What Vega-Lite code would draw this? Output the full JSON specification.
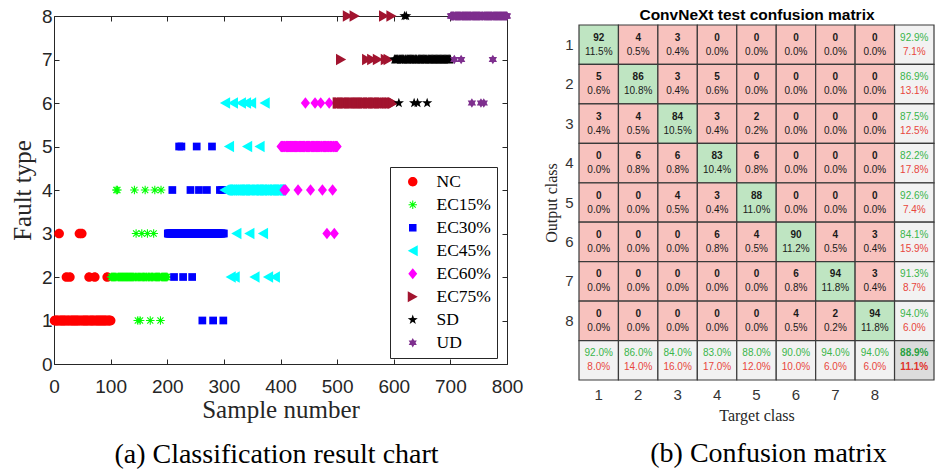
{
  "$schema": "https://vega.github.io/schema/vega-lite/v6.json",
  "background": "white",
  "padding": {"left": 10, "top": 7, "right": 0, "bottom": 0},
  "columns": 2,
  "align": "none",
  "spacing": 20,
  "config": {"view": {"stroke": null}, "font": "Liberation Sans"},
  "datasets": {
    "samples": [
      {"s":1,"t":1,"c":"NC"},{"s":2,"t":1,"c":"NC"},{"s":3,"t":1,"c":"NC"},{"s":4,"t":1,"c":"NC"},{"s":5,"t":1,"c":"NC"},{"s":6,"t":1,"c":"NC"},{"s":7,"t":1,"c":"NC"},{"s":8,"t":1,"c":"NC"},{"s":9,"t":3,"c":"NC"},{"s":10,"t":1,"c":"NC"},
      {"s":11,"t":1,"c":"NC"},{"s":12,"t":1,"c":"NC"},{"s":13,"t":1,"c":"NC"},{"s":14,"t":1,"c":"NC"},{"s":15,"t":1,"c":"NC"},{"s":16,"t":1,"c":"NC"},{"s":17,"t":1,"c":"NC"},{"s":18,"t":1,"c":"NC"},{"s":19,"t":1,"c":"NC"},{"s":20,"t":1,"c":"NC"},
      {"s":21,"t":1,"c":"NC"},{"s":22,"t":2,"c":"NC"},{"s":23,"t":1,"c":"NC"},{"s":24,"t":1,"c":"NC"},{"s":25,"t":1,"c":"NC"},{"s":26,"t":1,"c":"NC"},{"s":27,"t":1,"c":"NC"},{"s":28,"t":2,"c":"NC"},{"s":29,"t":1,"c":"NC"},{"s":30,"t":1,"c":"NC"},
      {"s":31,"t":1,"c":"NC"},{"s":32,"t":1,"c":"NC"},{"s":33,"t":1,"c":"NC"},{"s":34,"t":1,"c":"NC"},{"s":35,"t":1,"c":"NC"},{"s":36,"t":1,"c":"NC"},{"s":37,"t":1,"c":"NC"},{"s":38,"t":1,"c":"NC"},{"s":39,"t":1,"c":"NC"},{"s":40,"t":1,"c":"NC"},
      {"s":41,"t":1,"c":"NC"},{"s":42,"t":1,"c":"NC"},{"s":43,"t":1,"c":"NC"},{"s":44,"t":1,"c":"NC"},{"s":45,"t":3,"c":"NC"},{"s":46,"t":1,"c":"NC"},{"s":47,"t":1,"c":"NC"},{"s":48,"t":1,"c":"NC"},{"s":49,"t":3,"c":"NC"},{"s":50,"t":1,"c":"NC"},
      {"s":51,"t":1,"c":"NC"},{"s":52,"t":1,"c":"NC"},{"s":53,"t":1,"c":"NC"},{"s":54,"t":1,"c":"NC"},{"s":55,"t":1,"c":"NC"},{"s":56,"t":1,"c":"NC"},{"s":57,"t":1,"c":"NC"},{"s":58,"t":1,"c":"NC"},{"s":59,"t":1,"c":"NC"},{"s":60,"t":1,"c":"NC"},
      {"s":61,"t":1,"c":"NC"},{"s":62,"t":2,"c":"NC"},{"s":63,"t":1,"c":"NC"},{"s":64,"t":1,"c":"NC"},{"s":65,"t":1,"c":"NC"},{"s":66,"t":1,"c":"NC"},{"s":67,"t":1,"c":"NC"},{"s":68,"t":1,"c":"NC"},{"s":69,"t":1,"c":"NC"},{"s":70,"t":1,"c":"NC"},
      {"s":71,"t":1,"c":"NC"},{"s":72,"t":2,"c":"NC"},{"s":73,"t":1,"c":"NC"},{"s":74,"t":1,"c":"NC"},{"s":75,"t":1,"c":"NC"},{"s":76,"t":1,"c":"NC"},{"s":77,"t":1,"c":"NC"},{"s":78,"t":1,"c":"NC"},{"s":79,"t":1,"c":"NC"},{"s":80,"t":1,"c":"NC"},
      {"s":81,"t":1,"c":"NC"},{"s":82,"t":1,"c":"NC"},{"s":83,"t":1,"c":"NC"},{"s":84,"t":1,"c":"NC"},{"s":85,"t":1,"c":"NC"},{"s":86,"t":1,"c":"NC"},{"s":87,"t":1,"c":"NC"},{"s":88,"t":1,"c":"NC"},{"s":89,"t":1,"c":"NC"},{"s":90,"t":1,"c":"NC"},
      {"s":91,"t":1,"c":"NC"},{"s":92,"t":1,"c":"NC"},{"s":93,"t":1,"c":"NC"},{"s":94,"t":2,"c":"NC"},{"s":95,"t":1,"c":"NC"},{"s":96,"t":1,"c":"NC"},{"s":97,"t":1,"c":"NC"},{"s":98,"t":1,"c":"NC"},{"s":99,"t":1,"c":"NC"},{"s":100,"t":1,"c":"NC"},
      {"s":101,"t":2,"c":"EC15%"},{"s":102,"t":2,"c":"EC15%"},{"s":103,"t":2,"c":"EC15%"},{"s":104,"t":2,"c":"EC15%"},{"s":105,"t":2,"c":"EC15%"},{"s":106,"t":2,"c":"EC15%"},{"s":107,"t":2,"c":"EC15%"},{"s":108,"t":2,"c":"EC15%"},{"s":109,"t":2,"c":"EC15%"},{"s":110,"t":4,"c":"EC15%"},
      {"s":111,"t":2,"c":"EC15%"},{"s":112,"t":4,"c":"EC15%"},{"s":113,"t":2,"c":"EC15%"},{"s":114,"t":2,"c":"EC15%"},{"s":115,"t":2,"c":"EC15%"},{"s":116,"t":2,"c":"EC15%"},{"s":117,"t":2,"c":"EC15%"},{"s":118,"t":2,"c":"EC15%"},{"s":119,"t":2,"c":"EC15%"},{"s":120,"t":2,"c":"EC15%"},
      {"s":121,"t":2,"c":"EC15%"},{"s":122,"t":2,"c":"EC15%"},{"s":123,"t":2,"c":"EC15%"},{"s":124,"t":2,"c":"EC15%"},{"s":125,"t":2,"c":"EC15%"},{"s":126,"t":2,"c":"EC15%"},{"s":127,"t":2,"c":"EC15%"},{"s":128,"t":2,"c":"EC15%"},{"s":129,"t":2,"c":"EC15%"},{"s":130,"t":2,"c":"EC15%"},
      {"s":131,"t":2,"c":"EC15%"},{"s":132,"t":2,"c":"EC15%"},{"s":133,"t":2,"c":"EC15%"},{"s":134,"t":2,"c":"EC15%"},{"s":135,"t":2,"c":"EC15%"},{"s":136,"t":2,"c":"EC15%"},{"s":137,"t":2,"c":"EC15%"},{"s":138,"t":2,"c":"EC15%"},{"s":139,"t":2,"c":"EC15%"},{"s":140,"t":2,"c":"EC15%"},
      {"s":141,"t":2,"c":"EC15%"},{"s":142,"t":4,"c":"EC15%"},{"s":143,"t":2,"c":"EC15%"},{"s":144,"t":2,"c":"EC15%"},{"s":145,"t":3,"c":"EC15%"},{"s":146,"t":2,"c":"EC15%"},{"s":147,"t":2,"c":"EC15%"},{"s":148,"t":1,"c":"EC15%"},{"s":149,"t":2,"c":"EC15%"},{"s":150,"t":2,"c":"EC15%"},
      {"s":151,"t":2,"c":"EC15%"},{"s":152,"t":1,"c":"EC15%"},{"s":153,"t":2,"c":"EC15%"},{"s":154,"t":2,"c":"EC15%"},{"s":155,"t":3,"c":"EC15%"},{"s":156,"t":2,"c":"EC15%"},{"s":157,"t":2,"c":"EC15%"},{"s":158,"t":2,"c":"EC15%"},{"s":159,"t":2,"c":"EC15%"},{"s":160,"t":2,"c":"EC15%"},
      {"s":161,"t":4,"c":"EC15%"},{"s":162,"t":2,"c":"EC15%"},{"s":163,"t":2,"c":"EC15%"},{"s":164,"t":2,"c":"EC15%"},{"s":165,"t":3,"c":"EC15%"},{"s":166,"t":2,"c":"EC15%"},{"s":167,"t":2,"c":"EC15%"},{"s":168,"t":2,"c":"EC15%"},{"s":169,"t":2,"c":"EC15%"},{"s":170,"t":1,"c":"EC15%"},
      {"s":171,"t":2,"c":"EC15%"},{"s":172,"t":2,"c":"EC15%"},{"s":173,"t":2,"c":"EC15%"},{"s":174,"t":2,"c":"EC15%"},{"s":175,"t":2,"c":"EC15%"},{"s":176,"t":3,"c":"EC15%"},{"s":177,"t":2,"c":"EC15%"},{"s":178,"t":4,"c":"EC15%"},{"s":179,"t":2,"c":"EC15%"},{"s":180,"t":2,"c":"EC15%"},
      {"s":181,"t":2,"c":"EC15%"},{"s":182,"t":2,"c":"EC15%"},{"s":183,"t":2,"c":"EC15%"},{"s":184,"t":2,"c":"EC15%"},{"s":185,"t":2,"c":"EC15%"},{"s":186,"t":2,"c":"EC15%"},{"s":187,"t":2,"c":"EC15%"},{"s":188,"t":1,"c":"EC15%"},{"s":189,"t":4,"c":"EC15%"},{"s":190,"t":2,"c":"EC15%"},
      {"s":191,"t":2,"c":"EC15%"},{"s":192,"t":2,"c":"EC15%"},{"s":193,"t":2,"c":"EC15%"},{"s":194,"t":2,"c":"EC15%"},{"s":195,"t":2,"c":"EC15%"},{"s":196,"t":2,"c":"EC15%"},{"s":197,"t":2,"c":"EC15%"},{"s":198,"t":2,"c":"EC15%"},{"s":199,"t":2,"c":"EC15%"},{"s":200,"t":2,"c":"EC15%"},
      {"s":201,"t":3,"c":"EC30%"},{"s":202,"t":3,"c":"EC30%"},{"s":203,"t":3,"c":"EC30%"},{"s":204,"t":3,"c":"EC30%"},{"s":205,"t":3,"c":"EC30%"},{"s":206,"t":3,"c":"EC30%"},{"s":207,"t":3,"c":"EC30%"},{"s":208,"t":3,"c":"EC30%"},{"s":209,"t":4,"c":"EC30%"},{"s":210,"t":3,"c":"EC30%"},
      {"s":211,"t":3,"c":"EC30%"},{"s":212,"t":2,"c":"EC30%"},{"s":213,"t":3,"c":"EC30%"},{"s":214,"t":3,"c":"EC30%"},{"s":215,"t":3,"c":"EC30%"},{"s":216,"t":3,"c":"EC30%"},{"s":217,"t":3,"c":"EC30%"},{"s":218,"t":3,"c":"EC30%"},{"s":219,"t":3,"c":"EC30%"},{"s":220,"t":3,"c":"EC30%"},
      {"s":221,"t":5,"c":"EC30%"},{"s":222,"t":3,"c":"EC30%"},{"s":223,"t":3,"c":"EC30%"},{"s":224,"t":3,"c":"EC30%"},{"s":225,"t":5,"c":"EC30%"},{"s":226,"t":3,"c":"EC30%"},{"s":227,"t":3,"c":"EC30%"},{"s":228,"t":2,"c":"EC30%"},{"s":229,"t":3,"c":"EC30%"},{"s":230,"t":3,"c":"EC30%"},
      {"s":231,"t":3,"c":"EC30%"},{"s":232,"t":3,"c":"EC30%"},{"s":233,"t":3,"c":"EC30%"},{"s":234,"t":3,"c":"EC30%"},{"s":235,"t":3,"c":"EC30%"},{"s":236,"t":3,"c":"EC30%"},{"s":237,"t":3,"c":"EC30%"},{"s":238,"t":3,"c":"EC30%"},{"s":239,"t":3,"c":"EC30%"},{"s":240,"t":3,"c":"EC30%"},
      {"s":241,"t":4,"c":"EC30%"},{"s":242,"t":3,"c":"EC30%"},{"s":243,"t":3,"c":"EC30%"},{"s":244,"t":2,"c":"EC30%"},{"s":245,"t":3,"c":"EC30%"},{"s":246,"t":3,"c":"EC30%"},{"s":247,"t":3,"c":"EC30%"},{"s":248,"t":3,"c":"EC30%"},{"s":249,"t":3,"c":"EC30%"},{"s":250,"t":3,"c":"EC30%"},
      {"s":251,"t":3,"c":"EC30%"},{"s":252,"t":5,"c":"EC30%"},{"s":253,"t":3,"c":"EC30%"},{"s":254,"t":3,"c":"EC30%"},{"s":255,"t":3,"c":"EC30%"},{"s":256,"t":4,"c":"EC30%"},{"s":257,"t":3,"c":"EC30%"},{"s":258,"t":3,"c":"EC30%"},{"s":259,"t":3,"c":"EC30%"},{"s":260,"t":3,"c":"EC30%"},
      {"s":261,"t":3,"c":"EC30%"},{"s":262,"t":1,"c":"EC30%"},{"s":263,"t":3,"c":"EC30%"},{"s":264,"t":3,"c":"EC30%"},{"s":265,"t":3,"c":"EC30%"},{"s":266,"t":3,"c":"EC30%"},{"s":267,"t":3,"c":"EC30%"},{"s":268,"t":3,"c":"EC30%"},{"s":269,"t":3,"c":"EC30%"},{"s":270,"t":4,"c":"EC30%"},
      {"s":271,"t":3,"c":"EC30%"},{"s":272,"t":3,"c":"EC30%"},{"s":273,"t":3,"c":"EC30%"},{"s":274,"t":3,"c":"EC30%"},{"s":275,"t":3,"c":"EC30%"},{"s":276,"t":3,"c":"EC30%"},{"s":277,"t":3,"c":"EC30%"},{"s":278,"t":3,"c":"EC30%"},{"s":279,"t":5,"c":"EC30%"},{"s":280,"t":3,"c":"EC30%"},
      {"s":281,"t":1,"c":"EC30%"},{"s":282,"t":3,"c":"EC30%"},{"s":283,"t":3,"c":"EC30%"},{"s":284,"t":3,"c":"EC30%"},{"s":285,"t":3,"c":"EC30%"},{"s":286,"t":3,"c":"EC30%"},{"s":287,"t":3,"c":"EC30%"},{"s":288,"t":3,"c":"EC30%"},{"s":289,"t":3,"c":"EC30%"},{"s":290,"t":3,"c":"EC30%"},
      {"s":291,"t":3,"c":"EC30%"},{"s":292,"t":3,"c":"EC30%"},{"s":293,"t":4,"c":"EC30%"},{"s":294,"t":3,"c":"EC30%"},{"s":295,"t":3,"c":"EC30%"},{"s":296,"t":3,"c":"EC30%"},{"s":297,"t":4,"c":"EC30%"},{"s":298,"t":3,"c":"EC30%"},{"s":299,"t":1,"c":"EC30%"},{"s":300,"t":3,"c":"EC30%"},
      {"s":301,"t":4,"c":"EC45%"},{"s":302,"t":6,"c":"EC45%"},{"s":303,"t":4,"c":"EC45%"},{"s":304,"t":4,"c":"EC45%"},{"s":305,"t":4,"c":"EC45%"},{"s":306,"t":4,"c":"EC45%"},{"s":307,"t":4,"c":"EC45%"},{"s":308,"t":4,"c":"EC45%"},{"s":309,"t":5,"c":"EC45%"},{"s":310,"t":4,"c":"EC45%"},
      {"s":311,"t":4,"c":"EC45%"},{"s":312,"t":2,"c":"EC45%"},{"s":313,"t":4,"c":"EC45%"},{"s":314,"t":4,"c":"EC45%"},{"s":315,"t":4,"c":"EC45%"},{"s":316,"t":6,"c":"EC45%"},{"s":317,"t":4,"c":"EC45%"},{"s":318,"t":4,"c":"EC45%"},{"s":319,"t":2,"c":"EC45%"},{"s":320,"t":4,"c":"EC45%"},
      {"s":321,"t":4,"c":"EC45%"},{"s":322,"t":3,"c":"EC45%"},{"s":323,"t":4,"c":"EC45%"},{"s":324,"t":4,"c":"EC45%"},{"s":325,"t":4,"c":"EC45%"},{"s":326,"t":4,"c":"EC45%"},{"s":327,"t":4,"c":"EC45%"},{"s":328,"t":4,"c":"EC45%"},{"s":329,"t":4,"c":"EC45%"},{"s":330,"t":6,"c":"EC45%"},
      {"s":331,"t":4,"c":"EC45%"},{"s":332,"t":4,"c":"EC45%"},{"s":333,"t":4,"c":"EC45%"},{"s":334,"t":4,"c":"EC45%"},{"s":335,"t":4,"c":"EC45%"},{"s":336,"t":4,"c":"EC45%"},{"s":337,"t":4,"c":"EC45%"},{"s":338,"t":4,"c":"EC45%"},{"s":339,"t":6,"c":"EC45%"},{"s":340,"t":4,"c":"EC45%"},
      {"s":341,"t":5,"c":"EC45%"},{"s":342,"t":4,"c":"EC45%"},{"s":343,"t":4,"c":"EC45%"},{"s":344,"t":4,"c":"EC45%"},{"s":345,"t":3,"c":"EC45%"},{"s":346,"t":4,"c":"EC45%"},{"s":347,"t":4,"c":"EC45%"},{"s":348,"t":6,"c":"EC45%"},{"s":349,"t":4,"c":"EC45%"},{"s":350,"t":4,"c":"EC45%"},
      {"s":351,"t":4,"c":"EC45%"},{"s":352,"t":4,"c":"EC45%"},{"s":353,"t":4,"c":"EC45%"},{"s":354,"t":2,"c":"EC45%"},{"s":355,"t":4,"c":"EC45%"},{"s":356,"t":4,"c":"EC45%"},{"s":357,"t":4,"c":"EC45%"},{"s":358,"t":4,"c":"EC45%"},{"s":359,"t":4,"c":"EC45%"},{"s":360,"t":4,"c":"EC45%"},
      {"s":361,"t":4,"c":"EC45%"},{"s":362,"t":4,"c":"EC45%"},{"s":363,"t":5,"c":"EC45%"},{"s":364,"t":4,"c":"EC45%"},{"s":365,"t":4,"c":"EC45%"},{"s":366,"t":4,"c":"EC45%"},{"s":367,"t":4,"c":"EC45%"},{"s":368,"t":4,"c":"EC45%"},{"s":369,"t":3,"c":"EC45%"},{"s":370,"t":4,"c":"EC45%"},
      {"s":371,"t":4,"c":"EC45%"},{"s":372,"t":6,"c":"EC45%"},{"s":373,"t":4,"c":"EC45%"},{"s":374,"t":4,"c":"EC45%"},{"s":375,"t":4,"c":"EC45%"},{"s":376,"t":4,"c":"EC45%"},{"s":377,"t":4,"c":"EC45%"},{"s":378,"t":2,"c":"EC45%"},{"s":379,"t":4,"c":"EC45%"},{"s":380,"t":4,"c":"EC45%"},
      {"s":381,"t":4,"c":"EC45%"},{"s":382,"t":4,"c":"EC45%"},{"s":383,"t":4,"c":"EC45%"},{"s":384,"t":4,"c":"EC45%"},{"s":385,"t":4,"c":"EC45%"},{"s":386,"t":4,"c":"EC45%"},{"s":387,"t":4,"c":"EC45%"},{"s":388,"t":4,"c":"EC45%"},{"s":389,"t":4,"c":"EC45%"},{"s":390,"t":2,"c":"EC45%"},
      {"s":391,"t":4,"c":"EC45%"},{"s":392,"t":4,"c":"EC45%"},{"s":393,"t":4,"c":"EC45%"},{"s":394,"t":4,"c":"EC45%"},{"s":395,"t":4,"c":"EC45%"},{"s":396,"t":4,"c":"EC45%"},{"s":397,"t":4,"c":"EC45%"},{"s":398,"t":4,"c":"EC45%"},{"s":399,"t":4,"c":"EC45%"},{"s":400,"t":4,"c":"EC45%"},
      {"s":401,"t":5,"c":"EC60%"},{"s":402,"t":5,"c":"EC60%"},{"s":403,"t":5,"c":"EC60%"},{"s":404,"t":5,"c":"EC60%"},{"s":405,"t":5,"c":"EC60%"},{"s":406,"t":4,"c":"EC60%"},{"s":407,"t":5,"c":"EC60%"},{"s":408,"t":5,"c":"EC60%"},{"s":409,"t":4,"c":"EC60%"},{"s":410,"t":5,"c":"EC60%"},
      {"s":411,"t":5,"c":"EC60%"},{"s":412,"t":5,"c":"EC60%"},{"s":413,"t":5,"c":"EC60%"},{"s":414,"t":5,"c":"EC60%"},{"s":415,"t":5,"c":"EC60%"},{"s":416,"t":5,"c":"EC60%"},{"s":417,"t":5,"c":"EC60%"},{"s":418,"t":5,"c":"EC60%"},{"s":419,"t":5,"c":"EC60%"},{"s":420,"t":5,"c":"EC60%"},
      {"s":421,"t":5,"c":"EC60%"},{"s":422,"t":5,"c":"EC60%"},{"s":423,"t":5,"c":"EC60%"},{"s":424,"t":5,"c":"EC60%"},{"s":425,"t":5,"c":"EC60%"},{"s":426,"t":5,"c":"EC60%"},{"s":427,"t":5,"c":"EC60%"},{"s":428,"t":5,"c":"EC60%"},{"s":429,"t":5,"c":"EC60%"},{"s":430,"t":5,"c":"EC60%"},
      {"s":431,"t":4,"c":"EC60%"},{"s":432,"t":5,"c":"EC60%"},{"s":433,"t":5,"c":"EC60%"},{"s":434,"t":5,"c":"EC60%"},{"s":435,"t":5,"c":"EC60%"},{"s":436,"t":5,"c":"EC60%"},{"s":437,"t":5,"c":"EC60%"},{"s":438,"t":5,"c":"EC60%"},{"s":439,"t":5,"c":"EC60%"},{"s":440,"t":5,"c":"EC60%"},
      {"s":441,"t":5,"c":"EC60%"},{"s":442,"t":5,"c":"EC60%"},{"s":443,"t":5,"c":"EC60%"},{"s":444,"t":6,"c":"EC60%"},{"s":445,"t":5,"c":"EC60%"},{"s":446,"t":5,"c":"EC60%"},{"s":447,"t":5,"c":"EC60%"},{"s":448,"t":5,"c":"EC60%"},{"s":449,"t":5,"c":"EC60%"},{"s":450,"t":5,"c":"EC60%"},
      {"s":451,"t":5,"c":"EC60%"},{"s":452,"t":5,"c":"EC60%"},{"s":453,"t":4,"c":"EC60%"},{"s":454,"t":5,"c":"EC60%"},{"s":455,"t":5,"c":"EC60%"},{"s":456,"t":5,"c":"EC60%"},{"s":457,"t":5,"c":"EC60%"},{"s":458,"t":5,"c":"EC60%"},{"s":459,"t":5,"c":"EC60%"},{"s":460,"t":5,"c":"EC60%"},
      {"s":461,"t":6,"c":"EC60%"},{"s":462,"t":5,"c":"EC60%"},{"s":463,"t":5,"c":"EC60%"},{"s":464,"t":5,"c":"EC60%"},{"s":465,"t":5,"c":"EC60%"},{"s":466,"t":5,"c":"EC60%"},{"s":467,"t":5,"c":"EC60%"},{"s":468,"t":5,"c":"EC60%"},{"s":469,"t":5,"c":"EC60%"},{"s":470,"t":5,"c":"EC60%"},
      {"s":471,"t":6,"c":"EC60%"},{"s":472,"t":5,"c":"EC60%"},{"s":473,"t":5,"c":"EC60%"},{"s":474,"t":4,"c":"EC60%"},{"s":475,"t":5,"c":"EC60%"},{"s":476,"t":5,"c":"EC60%"},{"s":477,"t":5,"c":"EC60%"},{"s":478,"t":5,"c":"EC60%"},{"s":479,"t":5,"c":"EC60%"},{"s":480,"t":5,"c":"EC60%"},
      {"s":481,"t":5,"c":"EC60%"},{"s":482,"t":3,"c":"EC60%"},{"s":483,"t":5,"c":"EC60%"},{"s":484,"t":5,"c":"EC60%"},{"s":485,"t":5,"c":"EC60%"},{"s":486,"t":6,"c":"EC60%"},{"s":487,"t":5,"c":"EC60%"},{"s":488,"t":5,"c":"EC60%"},{"s":489,"t":5,"c":"EC60%"},{"s":490,"t":5,"c":"EC60%"},
      {"s":491,"t":5,"c":"EC60%"},{"s":492,"t":4,"c":"EC60%"},{"s":493,"t":5,"c":"EC60%"},{"s":494,"t":5,"c":"EC60%"},{"s":495,"t":3,"c":"EC60%"},{"s":496,"t":5,"c":"EC60%"},{"s":497,"t":5,"c":"EC60%"},{"s":498,"t":5,"c":"EC60%"},{"s":499,"t":5,"c":"EC60%"},{"s":500,"t":5,"c":"EC60%"},
      {"s":501,"t":6,"c":"EC75%"},{"s":502,"t":6,"c":"EC75%"},{"s":503,"t":6,"c":"EC75%"},{"s":504,"t":6,"c":"EC75%"},{"s":505,"t":6,"c":"EC75%"},{"s":506,"t":6,"c":"EC75%"},{"s":507,"t":7,"c":"EC75%"},{"s":508,"t":6,"c":"EC75%"},{"s":509,"t":6,"c":"EC75%"},{"s":510,"t":6,"c":"EC75%"},
      {"s":511,"t":6,"c":"EC75%"},{"s":512,"t":6,"c":"EC75%"},{"s":513,"t":6,"c":"EC75%"},{"s":514,"t":6,"c":"EC75%"},{"s":515,"t":6,"c":"EC75%"},{"s":516,"t":6,"c":"EC75%"},{"s":517,"t":6,"c":"EC75%"},{"s":518,"t":6,"c":"EC75%"},{"s":519,"t":8,"c":"EC75%"},{"s":520,"t":6,"c":"EC75%"},
      {"s":521,"t":6,"c":"EC75%"},{"s":522,"t":6,"c":"EC75%"},{"s":523,"t":6,"c":"EC75%"},{"s":524,"t":6,"c":"EC75%"},{"s":525,"t":6,"c":"EC75%"},{"s":526,"t":6,"c":"EC75%"},{"s":527,"t":6,"c":"EC75%"},{"s":528,"t":6,"c":"EC75%"},{"s":529,"t":6,"c":"EC75%"},{"s":530,"t":6,"c":"EC75%"},
      {"s":531,"t":8,"c":"EC75%"},{"s":532,"t":6,"c":"EC75%"},{"s":533,"t":6,"c":"EC75%"},{"s":534,"t":6,"c":"EC75%"},{"s":535,"t":6,"c":"EC75%"},{"s":536,"t":6,"c":"EC75%"},{"s":537,"t":6,"c":"EC75%"},{"s":538,"t":6,"c":"EC75%"},{"s":539,"t":6,"c":"EC75%"},{"s":540,"t":6,"c":"EC75%"},
      {"s":541,"t":6,"c":"EC75%"},{"s":542,"t":6,"c":"EC75%"},{"s":543,"t":6,"c":"EC75%"},{"s":544,"t":6,"c":"EC75%"},{"s":545,"t":6,"c":"EC75%"},{"s":546,"t":6,"c":"EC75%"},{"s":547,"t":6,"c":"EC75%"},{"s":548,"t":6,"c":"EC75%"},{"s":549,"t":6,"c":"EC75%"},{"s":550,"t":6,"c":"EC75%"},
      {"s":551,"t":6,"c":"EC75%"},{"s":552,"t":6,"c":"EC75%"},{"s":553,"t":7,"c":"EC75%"},{"s":554,"t":6,"c":"EC75%"},{"s":555,"t":6,"c":"EC75%"},{"s":556,"t":6,"c":"EC75%"},{"s":557,"t":6,"c":"EC75%"},{"s":558,"t":6,"c":"EC75%"},{"s":559,"t":6,"c":"EC75%"},{"s":560,"t":6,"c":"EC75%"},
      {"s":561,"t":6,"c":"EC75%"},{"s":562,"t":7,"c":"EC75%"},{"s":563,"t":6,"c":"EC75%"},{"s":564,"t":6,"c":"EC75%"},{"s":565,"t":6,"c":"EC75%"},{"s":566,"t":6,"c":"EC75%"},{"s":567,"t":6,"c":"EC75%"},{"s":568,"t":6,"c":"EC75%"},{"s":569,"t":6,"c":"EC75%"},{"s":570,"t":6,"c":"EC75%"},
      {"s":571,"t":6,"c":"EC75%"},{"s":572,"t":7,"c":"EC75%"},{"s":573,"t":6,"c":"EC75%"},{"s":574,"t":6,"c":"EC75%"},{"s":575,"t":6,"c":"EC75%"},{"s":576,"t":6,"c":"EC75%"},{"s":577,"t":6,"c":"EC75%"},{"s":578,"t":6,"c":"EC75%"},{"s":579,"t":6,"c":"EC75%"},{"s":580,"t":6,"c":"EC75%"},
      {"s":581,"t":6,"c":"EC75%"},{"s":582,"t":6,"c":"EC75%"},{"s":583,"t":8,"c":"EC75%"},{"s":584,"t":6,"c":"EC75%"},{"s":585,"t":6,"c":"EC75%"},{"s":586,"t":7,"c":"EC75%"},{"s":587,"t":6,"c":"EC75%"},{"s":588,"t":6,"c":"EC75%"},{"s":589,"t":6,"c":"EC75%"},{"s":590,"t":6,"c":"EC75%"},
      {"s":591,"t":7,"c":"EC75%"},{"s":592,"t":6,"c":"EC75%"},{"s":593,"t":6,"c":"EC75%"},{"s":594,"t":6,"c":"EC75%"},{"s":595,"t":6,"c":"EC75%"},{"s":596,"t":8,"c":"EC75%"},{"s":597,"t":6,"c":"EC75%"},{"s":598,"t":6,"c":"EC75%"},{"s":599,"t":6,"c":"EC75%"},{"s":600,"t":6,"c":"EC75%"},
      {"s":601,"t":7,"c":"SD"},{"s":602,"t":7,"c":"SD"},{"s":603,"t":7,"c":"SD"},{"s":604,"t":7,"c":"SD"},{"s":605,"t":7,"c":"SD"},{"s":606,"t":7,"c":"SD"},{"s":607,"t":7,"c":"SD"},{"s":608,"t":7,"c":"SD"},{"s":609,"t":6,"c":"SD"},{"s":610,"t":7,"c":"SD"},
      {"s":611,"t":7,"c":"SD"},{"s":612,"t":7,"c":"SD"},{"s":613,"t":7,"c":"SD"},{"s":614,"t":7,"c":"SD"},{"s":615,"t":7,"c":"SD"},{"s":616,"t":7,"c":"SD"},{"s":617,"t":7,"c":"SD"},{"s":618,"t":7,"c":"SD"},{"s":619,"t":8,"c":"SD"},{"s":620,"t":7,"c":"SD"},
      {"s":621,"t":7,"c":"SD"},{"s":622,"t":8,"c":"SD"},{"s":623,"t":7,"c":"SD"},{"s":624,"t":7,"c":"SD"},{"s":625,"t":7,"c":"SD"},{"s":626,"t":7,"c":"SD"},{"s":627,"t":7,"c":"SD"},{"s":628,"t":7,"c":"SD"},{"s":629,"t":7,"c":"SD"},{"s":630,"t":7,"c":"SD"},
      {"s":631,"t":7,"c":"SD"},{"s":632,"t":7,"c":"SD"},{"s":633,"t":7,"c":"SD"},{"s":634,"t":7,"c":"SD"},{"s":635,"t":7,"c":"SD"},{"s":636,"t":6,"c":"SD"},{"s":637,"t":7,"c":"SD"},{"s":638,"t":7,"c":"SD"},{"s":639,"t":7,"c":"SD"},{"s":640,"t":7,"c":"SD"},
      {"s":641,"t":7,"c":"SD"},{"s":642,"t":6,"c":"SD"},{"s":643,"t":7,"c":"SD"},{"s":644,"t":7,"c":"SD"},{"s":645,"t":7,"c":"SD"},{"s":646,"t":7,"c":"SD"},{"s":647,"t":7,"c":"SD"},{"s":648,"t":7,"c":"SD"},{"s":649,"t":7,"c":"SD"},{"s":650,"t":7,"c":"SD"},
      {"s":651,"t":7,"c":"SD"},{"s":652,"t":7,"c":"SD"},{"s":653,"t":7,"c":"SD"},{"s":654,"t":7,"c":"SD"},{"s":655,"t":7,"c":"SD"},{"s":656,"t":7,"c":"SD"},{"s":657,"t":7,"c":"SD"},{"s":658,"t":7,"c":"SD"},{"s":659,"t":6,"c":"SD"},{"s":660,"t":7,"c":"SD"},
      {"s":661,"t":7,"c":"SD"},{"s":662,"t":7,"c":"SD"},{"s":663,"t":7,"c":"SD"},{"s":664,"t":7,"c":"SD"},{"s":665,"t":7,"c":"SD"},{"s":666,"t":7,"c":"SD"},{"s":667,"t":7,"c":"SD"},{"s":668,"t":7,"c":"SD"},{"s":669,"t":7,"c":"SD"},{"s":670,"t":7,"c":"SD"},
      {"s":671,"t":7,"c":"SD"},{"s":672,"t":7,"c":"SD"},{"s":673,"t":7,"c":"SD"},{"s":674,"t":7,"c":"SD"},{"s":675,"t":7,"c":"SD"},{"s":676,"t":7,"c":"SD"},{"s":677,"t":7,"c":"SD"},{"s":678,"t":7,"c":"SD"},{"s":679,"t":7,"c":"SD"},{"s":680,"t":7,"c":"SD"},
      {"s":681,"t":7,"c":"SD"},{"s":682,"t":7,"c":"SD"},{"s":683,"t":7,"c":"SD"},{"s":684,"t":7,"c":"SD"},{"s":685,"t":7,"c":"SD"},{"s":686,"t":7,"c":"SD"},{"s":687,"t":7,"c":"SD"},{"s":688,"t":7,"c":"SD"},{"s":689,"t":7,"c":"SD"},{"s":690,"t":7,"c":"SD"},
      {"s":691,"t":7,"c":"SD"},{"s":692,"t":7,"c":"SD"},{"s":693,"t":7,"c":"SD"},{"s":694,"t":7,"c":"SD"},{"s":695,"t":7,"c":"SD"},{"s":696,"t":7,"c":"SD"},{"s":697,"t":7,"c":"SD"},{"s":698,"t":7,"c":"SD"},{"s":699,"t":7,"c":"SD"},{"s":700,"t":7,"c":"SD"},
      {"s":701,"t":8,"c":"UD"},{"s":702,"t":8,"c":"UD"},{"s":703,"t":8,"c":"UD"},{"s":704,"t":8,"c":"UD"},{"s":705,"t":8,"c":"UD"},{"s":706,"t":8,"c":"UD"},{"s":707,"t":7,"c":"UD"},{"s":708,"t":8,"c":"UD"},{"s":709,"t":8,"c":"UD"},{"s":710,"t":8,"c":"UD"},
      {"s":711,"t":8,"c":"UD"},{"s":712,"t":8,"c":"UD"},{"s":713,"t":8,"c":"UD"},{"s":714,"t":8,"c":"UD"},{"s":715,"t":8,"c":"UD"},{"s":716,"t":8,"c":"UD"},{"s":717,"t":8,"c":"UD"},{"s":718,"t":8,"c":"UD"},{"s":719,"t":7,"c":"UD"},{"s":720,"t":8,"c":"UD"},
      {"s":721,"t":8,"c":"UD"},{"s":722,"t":8,"c":"UD"},{"s":723,"t":8,"c":"UD"},{"s":724,"t":8,"c":"UD"},{"s":725,"t":8,"c":"UD"},{"s":726,"t":8,"c":"UD"},{"s":727,"t":8,"c":"UD"},{"s":728,"t":8,"c":"UD"},{"s":729,"t":8,"c":"UD"},{"s":730,"t":8,"c":"UD"},
      {"s":731,"t":8,"c":"UD"},{"s":732,"t":8,"c":"UD"},{"s":733,"t":8,"c":"UD"},{"s":734,"t":8,"c":"UD"},{"s":735,"t":8,"c":"UD"},{"s":736,"t":8,"c":"UD"},{"s":737,"t":8,"c":"UD"},{"s":738,"t":6,"c":"UD"},{"s":739,"t":8,"c":"UD"},{"s":740,"t":8,"c":"UD"},
      {"s":741,"t":8,"c":"UD"},{"s":742,"t":8,"c":"UD"},{"s":743,"t":8,"c":"UD"},{"s":744,"t":8,"c":"UD"},{"s":745,"t":8,"c":"UD"},{"s":746,"t":8,"c":"UD"},{"s":747,"t":8,"c":"UD"},{"s":748,"t":8,"c":"UD"},{"s":749,"t":8,"c":"UD"},{"s":750,"t":8,"c":"UD"},
      {"s":751,"t":8,"c":"UD"},{"s":752,"t":8,"c":"UD"},{"s":753,"t":8,"c":"UD"},{"s":754,"t":6,"c":"UD"},{"s":755,"t":8,"c":"UD"},{"s":756,"t":8,"c":"UD"},{"s":757,"t":8,"c":"UD"},{"s":758,"t":8,"c":"UD"},{"s":759,"t":6,"c":"UD"},{"s":760,"t":8,"c":"UD"},
      {"s":761,"t":8,"c":"UD"},{"s":762,"t":8,"c":"UD"},{"s":763,"t":8,"c":"UD"},{"s":764,"t":8,"c":"UD"},{"s":765,"t":8,"c":"UD"},{"s":766,"t":8,"c":"UD"},{"s":767,"t":8,"c":"UD"},{"s":768,"t":8,"c":"UD"},{"s":769,"t":8,"c":"UD"},{"s":770,"t":8,"c":"UD"},
      {"s":771,"t":8,"c":"UD"},{"s":772,"t":8,"c":"UD"},{"s":773,"t":8,"c":"UD"},{"s":774,"t":8,"c":"UD"},{"s":775,"t":7,"c":"UD"},{"s":776,"t":8,"c":"UD"},{"s":777,"t":8,"c":"UD"},{"s":778,"t":8,"c":"UD"},{"s":779,"t":8,"c":"UD"},{"s":780,"t":8,"c":"UD"},
      {"s":781,"t":8,"c":"UD"},{"s":782,"t":8,"c":"UD"},{"s":783,"t":8,"c":"UD"},{"s":784,"t":8,"c":"UD"},{"s":785,"t":8,"c":"UD"},{"s":786,"t":8,"c":"UD"},{"s":787,"t":8,"c":"UD"},{"s":788,"t":8,"c":"UD"},{"s":789,"t":8,"c":"UD"},{"s":790,"t":8,"c":"UD"},
      {"s":791,"t":8,"c":"UD"},{"s":792,"t":8,"c":"UD"},{"s":793,"t":8,"c":"UD"},{"s":794,"t":8,"c":"UD"},{"s":795,"t":8,"c":"UD"},{"s":796,"t":8,"c":"UD"},{"s":797,"t":8,"c":"UD"},{"s":798,"t":8,"c":"UD"},{"s":799,"t":8,"c":"UD"},{"s":800,"t":8,"c":"UD"}
    ],
    "cells": [
      {"r":1,"c":1,"a":"92","b":"11.5%","k":"diag"},{"r":1,"c":2,"a":"4","b":"0.5%","k":"off"},{"r":1,"c":3,"a":"3","b":"0.4%","k":"off"},{"r":1,"c":4,"a":"0","b":"0.0%","k":"off"},{"r":1,"c":5,"a":"0","b":"0.0%","k":"off"},{"r":1,"c":6,"a":"0","b":"0.0%","k":"off"},{"r":1,"c":7,"a":"0","b":"0.0%","k":"off"},{"r":1,"c":8,"a":"0","b":"0.0%","k":"off"},{"r":1,"c":9,"a":"92.9%","b":"7.1%","k":"sum"},
      {"r":2,"c":1,"a":"5","b":"0.6%","k":"off"},{"r":2,"c":2,"a":"86","b":"10.8%","k":"diag"},{"r":2,"c":3,"a":"3","b":"0.4%","k":"off"},{"r":2,"c":4,"a":"5","b":"0.6%","k":"off"},{"r":2,"c":5,"a":"0","b":"0.0%","k":"off"},{"r":2,"c":6,"a":"0","b":"0.0%","k":"off"},{"r":2,"c":7,"a":"0","b":"0.0%","k":"off"},{"r":2,"c":8,"a":"0","b":"0.0%","k":"off"},{"r":2,"c":9,"a":"86.9%","b":"13.1%","k":"sum"},
      {"r":3,"c":1,"a":"3","b":"0.4%","k":"off"},{"r":3,"c":2,"a":"4","b":"0.5%","k":"off"},{"r":3,"c":3,"a":"84","b":"10.5%","k":"diag"},{"r":3,"c":4,"a":"3","b":"0.4%","k":"off"},{"r":3,"c":5,"a":"2","b":"0.2%","k":"off"},{"r":3,"c":6,"a":"0","b":"0.0%","k":"off"},{"r":3,"c":7,"a":"0","b":"0.0%","k":"off"},{"r":3,"c":8,"a":"0","b":"0.0%","k":"off"},{"r":3,"c":9,"a":"87.5%","b":"12.5%","k":"sum"},
      {"r":4,"c":1,"a":"0","b":"0.0%","k":"off"},{"r":4,"c":2,"a":"6","b":"0.8%","k":"off"},{"r":4,"c":3,"a":"6","b":"0.8%","k":"off"},{"r":4,"c":4,"a":"83","b":"10.4%","k":"diag"},{"r":4,"c":5,"a":"6","b":"0.8%","k":"off"},{"r":4,"c":6,"a":"0","b":"0.0%","k":"off"},{"r":4,"c":7,"a":"0","b":"0.0%","k":"off"},{"r":4,"c":8,"a":"0","b":"0.0%","k":"off"},{"r":4,"c":9,"a":"82.2%","b":"17.8%","k":"sum"},
      {"r":5,"c":1,"a":"0","b":"0.0%","k":"off"},{"r":5,"c":2,"a":"0","b":"0.0%","k":"off"},{"r":5,"c":3,"a":"4","b":"0.5%","k":"off"},{"r":5,"c":4,"a":"3","b":"0.4%","k":"off"},{"r":5,"c":5,"a":"88","b":"11.0%","k":"diag"},{"r":5,"c":6,"a":"0","b":"0.0%","k":"off"},{"r":5,"c":7,"a":"0","b":"0.0%","k":"off"},{"r":5,"c":8,"a":"0","b":"0.0%","k":"off"},{"r":5,"c":9,"a":"92.6%","b":"7.4%","k":"sum"},
      {"r":6,"c":1,"a":"0","b":"0.0%","k":"off"},{"r":6,"c":2,"a":"0","b":"0.0%","k":"off"},{"r":6,"c":3,"a":"0","b":"0.0%","k":"off"},{"r":6,"c":4,"a":"6","b":"0.8%","k":"off"},{"r":6,"c":5,"a":"4","b":"0.5%","k":"off"},{"r":6,"c":6,"a":"90","b":"11.2%","k":"diag"},{"r":6,"c":7,"a":"4","b":"0.5%","k":"off"},{"r":6,"c":8,"a":"3","b":"0.4%","k":"off"},{"r":6,"c":9,"a":"84.1%","b":"15.9%","k":"sum"},
      {"r":7,"c":1,"a":"0","b":"0.0%","k":"off"},{"r":7,"c":2,"a":"0","b":"0.0%","k":"off"},{"r":7,"c":3,"a":"0","b":"0.0%","k":"off"},{"r":7,"c":4,"a":"0","b":"0.0%","k":"off"},{"r":7,"c":5,"a":"0","b":"0.0%","k":"off"},{"r":7,"c":6,"a":"6","b":"0.8%","k":"off"},{"r":7,"c":7,"a":"94","b":"11.8%","k":"diag"},{"r":7,"c":8,"a":"3","b":"0.4%","k":"off"},{"r":7,"c":9,"a":"91.3%","b":"8.7%","k":"sum"},
      {"r":8,"c":1,"a":"0","b":"0.0%","k":"off"},{"r":8,"c":2,"a":"0","b":"0.0%","k":"off"},{"r":8,"c":3,"a":"0","b":"0.0%","k":"off"},{"r":8,"c":4,"a":"0","b":"0.0%","k":"off"},{"r":8,"c":5,"a":"0","b":"0.0%","k":"off"},{"r":8,"c":6,"a":"4","b":"0.5%","k":"off"},{"r":8,"c":7,"a":"2","b":"0.2%","k":"off"},{"r":8,"c":8,"a":"94","b":"11.8%","k":"diag"},{"r":8,"c":9,"a":"94.0%","b":"6.0%","k":"sum"},
      {"r":9,"c":1,"a":"92.0%","b":"8.0%","k":"sum"},{"r":9,"c":2,"a":"86.0%","b":"14.0%","k":"sum"},{"r":9,"c":3,"a":"84.0%","b":"16.0%","k":"sum"},{"r":9,"c":4,"a":"83.0%","b":"17.0%","k":"sum"},{"r":9,"c":5,"a":"88.0%","b":"12.0%","k":"sum"},{"r":9,"c":6,"a":"90.0%","b":"10.0%","k":"sum"},{"r":9,"c":7,"a":"94.0%","b":"6.0%","k":"sum"},{"r":9,"c":8,"a":"94.0%","b":"6.0%","k":"sum"},{"r":9,"c":9,"a":"88.9%","b":"11.1%","k":"total"}
    ]
  },
  "concat": [
    {
      "width": 453,
      "height": 348,
      "title": {"text": "(a) Classification result chart", "orient": "bottom", "anchor": "middle", "font": "Liberation Serif", "fontSize": 28, "fontWeight": "normal", "color": "#000000", "offset": 18, "dx": -4},
      "data": {"name": "samples"},
      "layer": [
        {
          "mark": {"type": "point", "filled": true, "size": 115, "opacity": 1, "strokeWidth": 0},
          "encoding": {
            "x": {
              "field": "s", "type": "quantitative",
              "scale": {"domain": [0, 800], "nice": false, "zero": false},
              "axis": {"orient": "bottom", "values": [0, 100, 200, 300, 400, 500, 600, 700, 800], "grid": false, "tickSize": -5, "tickColor": "#262626", "domainColor": "#262626", "labelFont": "Liberation Sans", "labelFontSize": 19, "labelColor": "#262626", "labelPadding": 18.5, "labelFlush": false, "labelOverlap": false, "title": "Sample number", "titleFont": "Liberation Serif", "titleFontSize": 25, "titleFontWeight": "normal", "titleColor": "#262626", "titlePadding": 1}
            },
            "y": {
              "field": "t", "type": "quantitative",
              "scale": {"domain": [0, 8], "nice": false},
              "axis": {"orient": "left", "values": [0, 1, 2, 3, 4, 5, 6, 7, 8], "grid": false, "tickSize": -5, "tickColor": "#262626", "domainColor": "#262626", "labelFont": "Liberation Sans", "labelFontSize": 19, "labelColor": "#262626", "labelPadding": 7, "labelFlush": false, "labelOverlap": false, "title": "Fault type", "titleFont": "Liberation Serif", "titleFontSize": 25, "titleFontWeight": "normal", "titleColor": "#262626", "titlePadding": 6}
            },
            "color": {
              "field": "c", "type": "nominal",
              "scale": {"domain": ["NC", "EC15%", "EC30%", "EC45%", "EC60%", "EC75%", "SD", "UD"], "range": ["#ff0000", "#00ff00", "#0000ff", "#00ffff", "#ff00ff", "#a2142f", "#000000", "#7e2f8e"]},
              "legend": {"orient": "none", "legendX": 336, "legendY": 151, "title": null, "fillColor": "#ffffff", "strokeColor": "#262626", "padding": 6, "rowPadding": 4, "symbolSize": 110, "symbolOffset": 8, "labelOffset": 15, "labelFont": "Liberation Serif", "labelFontSize": 17.5, "labelColor": "#000000", "symbolStrokeWidth": 0}
            },
            "shape": {
              "field": "c", "type": "nominal",
              "scale": {"domain": ["NC", "EC15%", "EC30%", "EC45%", "EC60%", "EC75%", "SD", "UD"], "range": [
                "M0.9,0A0.9,0.9,0,1,1,-0.9,0A0.9,0.9,0,1,1,0.9,0Z",
                "M-0.8,-0.1L0.8,-0.1L0.8,0.1L-0.8,0.1ZM-0.1,-0.8L0.1,-0.8L0.1,0.8L-0.1,0.8ZM-0.495,-0.637L0.637,0.495L0.495,0.637L-0.637,-0.495ZM-0.637,0.495L0.495,-0.637L0.637,-0.495L-0.495,0.637Z",
                "M-0.72,-0.72L0.72,-0.72L0.72,0.72L-0.72,0.72Z",
                "M-0.95,0L0.95,-1.05L0.95,1.05Z",
                "M0,-1.05L0.85,0L0,1.05L-0.85,0Z",
                "M0.95,0L-0.95,-1.05L-0.95,1.05Z",
                "M0,-1L0.235,-0.324L0.951,-0.309L0.38,0.124L0.588,0.809L0,0.4L-0.588,0.809L-0.38,0.124L-0.951,-0.309L-0.235,-0.324Z",
                "M0,-0.9L0.26,-0.45L0.779,-0.45L0.52,0L0.779,0.45L0.26,0.45L0,0.9L-0.26,0.45L-0.779,0.45L-0.52,0L-0.779,-0.45L-0.26,-0.45Z"
              ]},
              "legend": {"orient": "none", "legendX": 336, "legendY": 151, "title": null, "fillColor": "#ffffff", "strokeColor": "#262626", "padding": 6, "rowPadding": 4, "symbolSize": 110, "symbolOffset": 8, "labelOffset": 15, "labelFont": "Liberation Serif", "labelFontSize": 17.5, "labelColor": "#000000", "symbolStrokeWidth": 0}
            }
          }
        },
        {
          "transform": [{"filter": "datum.s == 1"}],
          "mark": {"type": "point", "opacity": 0},
          "encoding": {
            "x": {"field": "s", "type": "quantitative", "axis": {"orient": "top", "values": [0, 100, 200, 300, 400, 500, 600, 700, 800], "labels": false, "grid": false, "tickSize": -5, "tickColor": "#262626", "domainColor": "#262626", "title": null}},
            "y": {"field": "t", "type": "quantitative", "axis": {"orient": "right", "values": [0, 1, 2, 3, 4, 5, 6, 7, 8], "labels": false, "grid": false, "tickSize": -5, "tickColor": "#262626", "domainColor": "#262626", "title": null}}
          }
        }
      ],
      "resolve": {"axis": {"x": "independent", "y": "independent"}}
    },
    {
      "width": 355,
      "height": 364,
      "title": {"text": "(b) Confusion matrix", "orient": "bottom", "anchor": "middle", "font": "Liberation Serif", "fontSize": 28, "fontWeight": "normal", "color": "#000000", "offset": 17, "dx": 12},
      "data": {"name": "cells"},
      "layer": [
        {
          "mark": {"type": "rect", "stroke": "#3a3a3a", "strokeWidth": 1.2},
          "encoding": {
            "x": {"field": "c", "type": "ordinal", "scale": {"domain": [1, 2, 3, 4, 5, 6, 7, 8, 9], "paddingInner": 0, "paddingOuter": 0},
              "axis": {"orient": "bottom", "labelExpr": "datum.value == 9 ? '' : datum.label", "labelAngle": 0, "ticks": false, "domain": false, "labelFont": "Liberation Sans", "labelFontSize": 15, "labelColor": "#333333", "labelPadding": 7.5, "title": "Target class", "titleFont": "Liberation Serif", "titleFontSize": 16, "titleFontWeight": "normal", "titleColor": "#262626", "titlePadding": 4.5}},
            "y": {"field": "r", "type": "ordinal", "scale": {"domain": [1, 2, 3, 4, 5, 6, 7, 8, 9], "range": [9, 364], "paddingInner": 0, "paddingOuter": 0},
              "axis": {"orient": "left", "labelExpr": "datum.value == 9 ? '' : datum.label", "ticks": false, "domain": false, "labelFont": "Liberation Sans", "labelFontSize": 15, "labelColor": "#333333", "labelPadding": 6, "title": "Output class", "titleFont": "Liberation Serif", "titleFontSize": 16, "titleFontWeight": "normal", "titleColor": "#262626", "titlePadding": 5}},
            "fill": {"field": "k", "type": "nominal", "scale": {"domain": ["diag", "off", "sum", "total"], "range": ["#bfe5c2", "#f8c2be", "#f2f2f2", "#dcdcdc"]}, "legend": null}
          }
        },
        {
          "transform": [{"filter": "datum.k != 'sum'"}],
          "mark": {"type": "text", "fontWeight": "bold", "fontSize": 10, "dy": -7, "baseline": "middle"},
          "encoding": {
            "x": {"field": "c", "type": "ordinal", "axis": {"orient": "top", "labels": false, "ticks": false, "domain": false, "title": "ConvNeXt test confusion matrix", "titleFont": "Liberation Sans", "titleFontSize": 15.5, "titleFontWeight": "bold", "titleColor": "#000000", "titlePadding": -6}},
            "y": {"field": "r", "type": "ordinal", "axis": null},
            "text": {"field": "a", "type": "nominal"},
            "color": {"field": "k", "type": "nominal", "scale": {"domain": ["diag", "off", "total"], "range": ["#1a1a1a", "#1a1a1a", "#27a140"]}, "legend": null}
          }
        },
        {
          "transform": [{"filter": "datum.k == 'sum'"}],
          "mark": {"type": "text", "fontSize": 10, "dy": -7, "baseline": "middle", "color": "#39b54a"},
          "encoding": {
            "x": {"field": "c", "type": "ordinal", "axis": null},
            "y": {"field": "r", "type": "ordinal", "axis": null},
            "text": {"field": "a", "type": "nominal"}
          }
        },
        {
          "transform": [{"filter": "datum.k != 'total'"}],
          "mark": {"type": "text", "fontSize": 10, "dy": 7, "baseline": "middle"},
          "encoding": {
            "x": {"field": "c", "type": "ordinal", "axis": null},
            "y": {"field": "r", "type": "ordinal", "axis": null},
            "text": {"field": "b", "type": "nominal"},
            "color": {"field": "k", "type": "nominal", "scale": {"domain": ["diag", "off", "sum"], "range": ["#1a1a1a", "#1a1a1a", "#e8463c"]}, "legend": null}
          }
        },
        {
          "transform": [{"filter": "datum.k == 'total'"}],
          "mark": {"type": "text", "fontSize": 10, "fontWeight": "bold", "dy": 7, "baseline": "middle", "color": "#e0332b"},
          "encoding": {
            "x": {"field": "c", "type": "ordinal", "axis": null},
            "y": {"field": "r", "type": "ordinal", "axis": null},
            "text": {"field": "b", "type": "nominal"}
          }
        }
      ],
      "resolve": {"axis": {"x": "independent", "y": "independent"}, "scale": {"color": "independent"}}
    }
  ]
}
